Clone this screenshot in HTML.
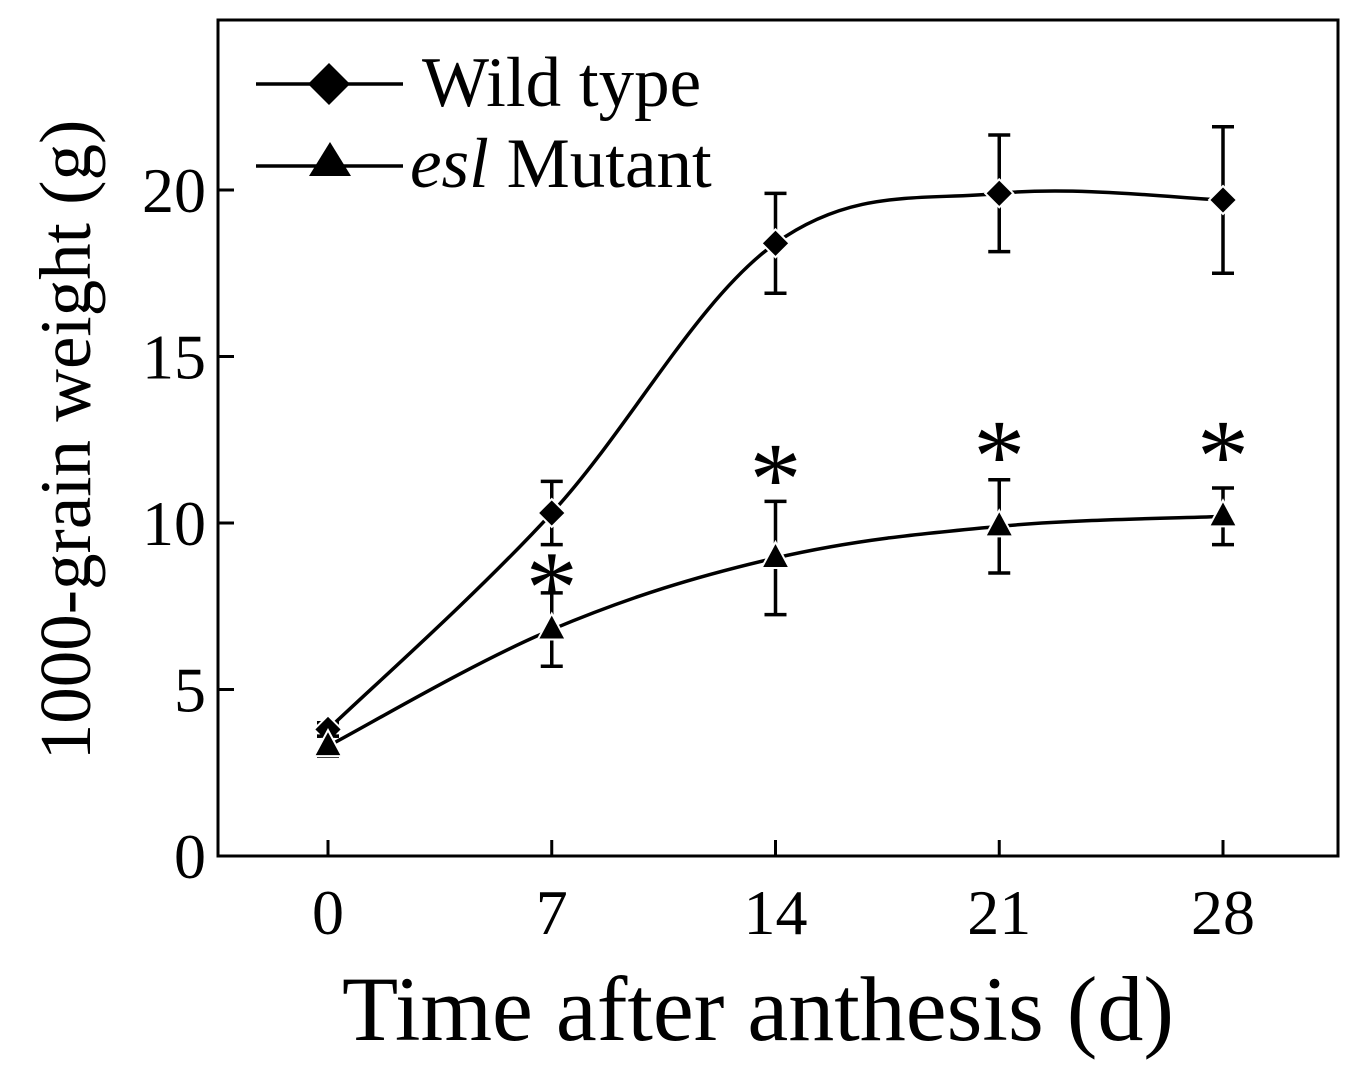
<!DOCTYPE html>
<html><head><meta charset="utf-8"><style>
html,body{margin:0;padding:0;background:#fff}
svg{display:block}
text{font-family:"Liberation Serif",serif;fill:#000}
</style></head><body>
<svg id="chart" width="1357" height="1084" viewBox="0 0 1357 1084">
<rect x="218" y="20" width="1120" height="836" fill="none" stroke="#000" stroke-width="3"/>
<g id="ticks"></g>
<g id="series"></g>
<text x="758" y="1040" font-size="92" text-anchor="middle">Time after anthesis (d)</text>
<text transform="translate(90,440) rotate(-90)" font-size="73" text-anchor="middle">1000-grain weight (g)</text>
<g>
<line x1="256" y1="84" x2="403" y2="84" stroke="#000" stroke-width="3.5"/>
<polygon points="329,63 350,84 329,105 308,84" fill="#000"/>
<text x="422" y="106" font-size="71">Wild type</text>
<line x1="256" y1="166" x2="403" y2="166" stroke="#000" stroke-width="3.5"/>
<polygon points="330,142 351,176 309,176" fill="#000"/>
<text x="410" y="187" font-size="71"><tspan font-style="italic">esl</tspan> Mutant</text>
</g>
</svg>
<script>
const days = [0, 7, 14, 21, 28];
const wildType = [3.8, 10.3, 18.4, 19.9, 19.7];
const wildErr = [0.2, 0.95, 1.5, 1.75, 2.2];
const mutant = [3.3, 6.8, 8.95, 9.9, 10.2];
const mutantErr = [0.3, 1.1, 1.7, 1.4, 0.85];
const starLevel = [null, 8.7, 11.95, 12.65, 12.65];
const xTicks = [0, 7, 14, 21, 28];
const yTicks = [0, 5, 10, 15, 20];

const NS = 'http://www.w3.org/2000/svg';
const xs = d => 328 + d * (1223 - 328) / 28;
const ys = v => 856 - v * (856 - 190) / 20;
function mk(tag, attrs, parent) {
  const e = document.createElementNS(NS, tag);
  for (const k in attrs) e.setAttribute(k, attrs[k]);
  parent.appendChild(e);
  return e;
}
const tk = document.getElementById('ticks');
xTicks.forEach(t => {
  const l = mk('line', {x1: xs(t), x2: xs(t), y1: 856, y2: 840, stroke: '#000', 'stroke-width': 3}, tk);
  
  
  const tx = mk('text', {x: xs(t), y: 934, 'font-size': 64, 'text-anchor': 'middle'}, tk);
  tx.textContent = t;
  
  
});
yTicks.forEach(t => {
  const l = mk('line', {x1: 218, x2: 234, y1: ys(t), y2: ys(t), stroke: '#000', 'stroke-width': 3}, tk);
  
  
  const tx = mk('text', {x: 206, y: ys(t) + 22, 'font-size': 64, 'text-anchor': 'end'}, tk);
  tx.textContent = t;
  
  
});
function spline(vals) {
  const p = days.map((d, i) => [xs(d), ys(vals[i])]);
  let s = 'M' + p[0][0] + ',' + p[0][1];
  for (let i = 0; i < p.length - 1; i++) {
    const p0 = p[Math.max(i - 1, 0)], p1 = p[i], p2 = p[i + 1], p3 = p[Math.min(i + 2, p.length - 1)];
    const k = 0.35 / 2;
    const c1 = [p1[0] + (p2[0] - p0[0]) * k, p1[1] + (p2[1] - p0[1]) * k];
    const c2 = [p2[0] - (p3[0] - p1[0]) * k, p2[1] - (p3[1] - p1[1]) * k];
    s += ' C' + c1 + ' ' + c2 + ' ' + p2;
  }
  return s;
}
const sg = document.getElementById('series');
function series(vals, errs, name, marker) {
  const path = mk('path', {d: spline(vals), fill: 'none', stroke: '#000', 'stroke-width': 3.5}, sg);
  
  
  days.forEach((d, i) => {
    const x = xs(d), y = ys(vals[i]), t = ys(vals[i] + errs[i]), b = ys(vals[i] - errs[i]);
    const eb = mk('path', {d: `M${x},${t}V${b}M${x - 11},${t}H${x + 11}M${x - 11},${b}H${x + 11}`, stroke: '#000', 'stroke-width': 3.5, fill: 'none'}, sg);
    
    
    let m;
    if (marker === 'diamond') m = mk('polygon', {points: `${x},${y - 14} ${x + 14},${y} ${x},${y + 14} ${x - 14},${y}`, fill: '#000', stroke: '#fff', 'stroke-width': 2}, sg);
    else m = mk('polygon', {points: `${x},${y - 16} ${x + 14},${y + 10} ${x - 14},${y + 10}`, fill: '#000', stroke: '#fff', 'stroke-width': 2}, sg);
    
    
  });
}
series(wildType, wildErr, 'wild-type', 'diamond');
series(mutant, mutantErr, 'mutant', 'triangle');
starLevel.forEach((v, i) => {
  if (v === null) return;
  const s = mk('text', {x: xs(days[i]), y: ys(v) + 56, 'font-size': 104, 'text-anchor': 'middle'}, sg);
  s.textContent = '*';
  
  
});
</script>
</body></html>
